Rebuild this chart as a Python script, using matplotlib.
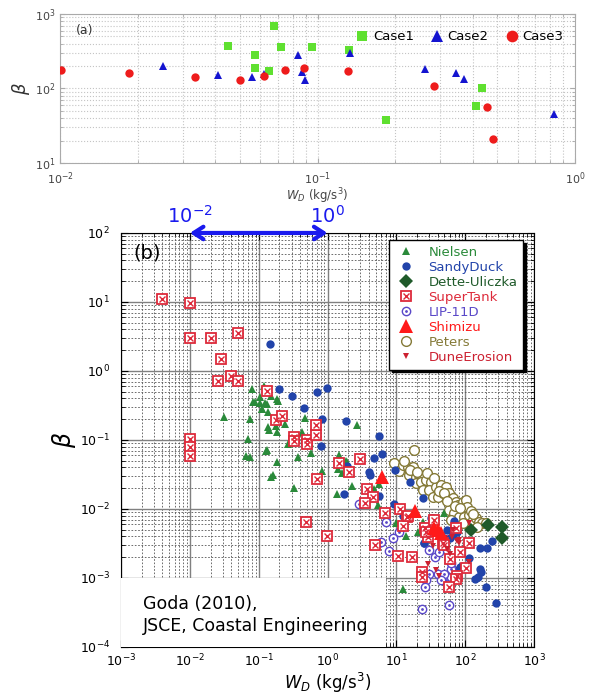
import numpy as np
import matplotlib
matplotlib.use('Agg')
import matplotlib.pyplot as plt
from matplotlib.patches import Rectangle
from matplotlib.ticker import LogLocator, NullFormatter, FixedLocator, LogFormatterSciNotation
from matplotlib.legend_handler import HandlerTuple

# ---------------- panel (a) data ----------------
case1_x = [0.045, 0.068, 0.057, 0.057, 0.065, 0.0723, 0.0953, 0.132, 0.185, 0.435, 0.413]
case1_y = [375, 693, 282, 191, 174, 358, 366, 333, 37.9, 103, 58]
case2_x = [0.0251, 0.0409, 0.0557, 0.0622, 0.0843, 0.0873, 0.0891, 0.1337, 0.262, 0.345, 0.372, 0.83]
case2_y = [203, 153, 144, 155, 279, 164, 130, 296, 183, 162, 136, 45]
case3_x = [0.0101, 0.0185, 0.0334, 0.0501, 0.0622, 0.075, 0.0883, 0.131, 0.283, 0.454, 0.48]
case3_y = [178, 162, 143, 131, 146, 178, 191, 174, 107, 56, 21]

# ---------------- panel (b) data ----------------
nielsen_x = [0.118, 0.080, 0.103, 0.149, 0.0826, 0.125, 0.187, 0.112, 0.136, 0.0314, 0.0758, 0.136,
             0.14, 0.181, 0.244, 0.475, 0.42, 0.187, 2.66, 0.0693, 0.266, 0.548, 0.13, 0.066, 0.074,
             0.367, 0.568, 0.187, 1.49, 1.87, 0.088, 0.103, 0.13, 0.11, 0.19, 0.129, 0.153, 0.16,
             0.325, 1.44, 1.61, 1.93, 0.83, 1.38, 2.28, 4.8, 5.67, 5.49, 9.9, 13.8, 20.4, 24.1, 48.5, 12.6]
nielsen_y = [0.612, 0.543, 0.425, 0.435, 0.352, 0.347, 0.389, 0.279, 0.257, 0.213, 0.201, 0.156,
             0.14, 0.160, 0.171, 0.208, 0.132, 0.129, 0.167, 0.102, 0.0865, 0.0914, 0.0716, 0.0586, 0.056,
             0.0573, 0.0655, 0.0485, 0.060, 0.050, 0.36, 0.34, 0.33, 0.28, 0.37, 0.069, 0.0288, 0.031,
             0.020, 0.038, 0.0329, 0.0485, 0.0356, 0.0163, 0.0216, 0.0193, 0.023, 0.0114, 0.0062, 0.0041,
             0.0047, 0.00655, 0.0087, 0.00069]

sandy_x = [0.144, 0.197, 0.304, 0.709, 0.977, 0.449, 0.838, 1.87, 0.81, 5.55, 6.2, 4.8, 1.9, 3.97, 4.16,
           1.76, 5.55, 9.6, 15.8, 9.35, 12.6, 31.8, 24.9, 44.4, 60.4, 67.5, 75, 112, 163, 211, 249, 163,
           171, 137, 153, 200, 279, 81.8, 24.6, 33.6, 69, 25.5, 55.3, 84.7]
sandy_y = [2.44, 0.543, 0.44, 0.501, 0.573, 0.294, 0.201, 0.19, 0.0819, 0.114, 0.062, 0.0555, 0.042,
           0.0347, 0.0311, 0.0165, 0.0154, 0.0367, 0.0249, 0.0118, 0.008, 0.00748, 0.00325, 0.0042,
           0.00375, 0.0042, 0.0047, 0.00193, 0.00269, 0.00269, 0.00348, 0.00133, 0.00122, 0.00097,
           0.00105, 0.00073, 0.00044, 0.00134, 0.0143, 0.0073, 0.0068, 0.00318, 0.00497, 0.00146]

dette_x = [120, 218, 347, 347]
dette_y = [0.00497, 0.00586, 0.00554, 0.00376]

supertank_x = [0.0040, 0.010, 0.010, 0.020, 0.050, 0.028, 0.0257, 0.040, 0.050, 0.131, 0.010, 0.010,
               0.010, 0.176, 0.22, 0.329, 0.33, 0.50, 0.50, 0.686, 0.69, 0.70, 0.48, 1.49, 2.08, 2.98,
               3.71, 4.54, 3.55, 6.93, 11.4, 14.1, 12.6, 0.99, 4.97, 14.6, 10.4, 16.7, 26.1, 28.4, 35.6,
               48, 60.7, 73.3, 112, 102, 23.5, 23.5, 75, 73, 58.6, 26.9, 84.7, 49.7]
supertank_y = [10.9, 9.6, 3.0, 3.0, 3.5, 1.49, 0.716, 0.837, 0.716, 0.513, 0.102, 0.078, 0.059, 0.195,
               0.223, 0.112, 0.098, 0.100, 0.0865, 0.117, 0.165, 0.0272, 0.00655, 0.0469, 0.034, 0.0525,
               0.0195, 0.0151, 0.0121, 0.00867, 0.010, 0.0076, 0.00568, 0.00406, 0.00304, 0.0078,
               0.00209, 0.00204, 0.00525, 0.00397, 0.00693, 0.00318, 0.00187, 0.00525, 0.00318, 0.00138,
               0.00124, 0.00105, 0.00107, 0.00096, 0.00073, 0.00468, 0.0024, 0.0030]

lip_x = [2.91, 7.08, 10.8, 8.85, 6.0, 7.93, 30.1, 36.7, 41, 30.1, 26.9, 26.3, 39.8, 52.5, 61.9, 61.9,
         61.9, 49.7, 23.5, 58.6, 44.4]
lip_y = [0.0117, 0.00655, 0.00469, 0.00376, 0.00329, 0.00246, 0.00255, 0.00204, 0.00236, 0.00114,
         0.00093, 0.00075, 0.00114, 0.00093, 0.00105, 0.00134, 0.00166, 0.00114, 0.00036, 0.0004, 0.00093]

shimizu_x = [6.12, 18.6, 35.6, 44.4, 40]
shimizu_y = [0.0294, 0.0095, 0.00536, 0.00454, 0.0050]

peters_x = [18.2, 9.36, 11.0, 12.3, 14.6, 17.2, 15.4, 19.3, 21.5, 24.1, 19.3, 22.8, 26.9, 31.8, 24.1,
            30.1, 37.6, 44.4, 52.5, 33.6, 39.7, 46.9, 58.6, 65.5, 73.3, 77.4, 91.5, 102, 108, 58.6, 69.2,
            81.8, 96.8, 114, 128, 143, 160, 178, 200, 61.9, 91.5, 151, 13, 16, 20, 28, 35, 42, 50, 55,
            70, 85, 120, 130]
peters_y = [0.0716, 0.0459, 0.0359, 0.0434, 0.041, 0.041, 0.0311, 0.0294, 0.0311, 0.0294, 0.0236, 0.0249,
            0.0263, 0.0249, 0.0188, 0.0188, 0.0211, 0.0223, 0.0211, 0.0151, 0.0151, 0.0169, 0.0169, 0.0143,
            0.0128, 0.0114, 0.0128, 0.0135, 0.0108, 0.0097, 0.00867, 0.00775, 0.00775, 0.00818, 0.00693,
            0.00733, 0.00655, 0.0062, 0.0062, 0.00693, 0.0062, 0.00554, 0.050, 0.037, 0.034, 0.033, 0.028,
            0.018, 0.017, 0.013, 0.011, 0.0105, 0.0095, 0.0085]

dune_x = [114, 55.3, 28.4, 41, 81.8, 112, 33.6, 64, 50.8, 75, 80.3, 65.5, 38, 60]
dune_y = [0.0063, 0.00263, 0.0016, 0.00107, 0.00356, 0.00173, 0.00291, 0.00397, 0.0038, 0.00348,
          0.00325, 0.00497, 0.0013, 0.0022]

a_xticks = [1e-2, 1e-1, 1e0]
a_yticks = [1e1, 1e2, 1e3]
b_xticks = [1e-3, 1e-2, 1e-1, 1e0, 1e1, 1e2, 1e3]
b_yticks = [1e-4, 1e-3, 1e-2, 1e-1, 1e0, 1e1, 1e2]

# ---------------- figure ----------------
fig = plt.figure(figsize=(5.9, 6.99), dpi=100)

# ----- panel (a) -----
axa = fig.add_axes([0.1017, 0.7668, 0.8729, 0.2132])
axa.set_xscale('log')
axa.set_yscale('log')
axa.set_xlim(1e-2, 1)
axa.set_ylim(10, 1000)
axa.xaxis.set_major_locator(FixedLocator(a_xticks))
axa.yaxis.set_major_locator(FixedLocator(a_yticks))
axa.xaxis.set_major_formatter(LogFormatterSciNotation())
axa.yaxis.set_major_formatter(LogFormatterSciNotation())
axa.grid(True, which='both', color='#c4c4c4', linestyle=':', linewidth=0.8)
axa.set_axisbelow(True)
for s in axa.spines.values():
    s.set_color('#aaaaaa')
axa.tick_params(which='both', direction='in', color='#aaaaaa', labelcolor='#444444',
                labelsize=8, top=True, right=True)
axa.tick_params(axis='x', pad=5)
axa.plot(case1_x, case1_y, 's', color='#5fe030', ms=5.5, mew=0, label='Case1', zorder=3)
axa.plot(case2_x, case2_y, '^', color='#1414d0', ms=6, mew=0, label='Case2', zorder=3)
axa.plot(case3_x, case3_y, 'o', color='#ee1c1c', ms=6, mew=0, label='Case3', zorder=3)
axa.legend(loc='upper right', ncol=3, frameon=False, fontsize=9.5, handletextpad=0.2,
           columnspacing=1.15, markerscale=1.4, bbox_to_anchor=(1.0, 0.97), handlelength=1.2)
axa.text(0.03, 0.93, '(a)', transform=axa.transAxes, fontsize=9, va='top', color='#333333')
axa.set_xlabel(r'$W_D$ (kg/s$^3$)', fontsize=8.5, color='#444444', labelpad=0)
axa.set_ylabel(r'$\beta$', fontsize=13, color='#333333', labelpad=2)

# ----- panel (b) -----
axb = fig.add_axes([0.2051, 0.0744, 0.7, 0.5923])
axb.set_xscale('log')
axb.set_yscale('log')
axb.set_xlim(1e-3, 1e3)
axb.set_ylim(1e-4, 1e2)
axb.xaxis.set_major_locator(FixedLocator(b_xticks))
axb.yaxis.set_major_locator(FixedLocator(b_yticks))
for axis in (axb.xaxis, axb.yaxis):
    axis.set_major_formatter(LogFormatterSciNotation())
    axis.set_minor_locator(LogLocator(base=10, subs=np.arange(2, 10), numticks=20))
    axis.set_minor_formatter(NullFormatter())
axb.grid(True, which='major', color='#808080', linestyle='-', linewidth=1.0)
axb.grid(True, which='minor', color='#555555', linestyle=(0, (2, 2)), linewidth=0.6)
axb.set_axisbelow(True)
axb.tick_params(which='both', direction='in', top=True, right=True, labelsize=9)
axb.tick_params(which='major', length=5)
axb.tick_params(which='minor', length=3)
axb.tick_params(axis='y', pad=8)
axb.tick_params(axis='x', pad=4)

c_niel = '#2a8a3a'
c_sandy = '#2244aa'
c_dette = '#1f5a2a'
c_super = '#dd2a3a'
c_lip = '#5a48c8'
c_shim = '#ff1a1a'
c_pet = '#857a38'
c_dune = '#cc2030'

h_pet, = axb.plot(peters_x, peters_y, 'o', mfc='white', mec=c_pet, ms=7, mew=1.0, zorder=3, ls='none')
h_niel, = axb.plot(nielsen_x, nielsen_y, '^', color=c_niel, ms=6, mew=0, zorder=4, ls='none')
h_sandy, = axb.plot(sandy_x, sandy_y, 'o', color=c_sandy, ms=6, mew=0, zorder=4, ls='none')
h_dette, = axb.plot(dette_x, dette_y, 'D', color=c_dette, ms=7, mew=0, zorder=4, ls='none')
h_lip1, = axb.plot(lip_x, lip_y, 'o', mfc='white', mec=c_lip, ms=6, mew=1.0, zorder=5, ls='none')
h_lip2, = axb.plot(lip_x, lip_y, '.', color=c_lip, ms=2, zorder=5, ls='none')
h_sup1, = axb.plot(supertank_x, supertank_y, 's', mfc='white', mec=c_super, ms=7, mew=1.3, zorder=5, ls='none')
h_sup2, = axb.plot(supertank_x, supertank_y, 'x', color=c_super, ms=4.5, mew=1.0, zorder=5, ls='none')
h_dune, = axb.plot(dune_x, dune_y, 'v', color=c_dune, ms=5, mew=0, zorder=6, ls='none')
h_shim, = axb.plot(shimizu_x, shimizu_y, '^', color=c_shim, ms=10, mew=0, zorder=6, ls='none')

handles = [h_niel, h_sandy, h_dette, (h_sup1, h_sup2), (h_lip1, h_lip2), h_shim, h_pet, h_dune]
labels = ['Nielsen', 'SandyDuck', 'Dette-Uliczka', 'SuperTank', 'LIP-11D', 'Shimizu', 'Peters', 'DuneErosion']
lcolors = [c_niel, c_sandy, c_dette, c_super, c_lip, c_shim, c_pet, c_dune]
leg = axb.legend(handles, labels, loc='upper right', bbox_to_anchor=(0.99, 0.999),
                 handler_map={tuple: HandlerTuple(ndivide=1)},
                 fontsize=9.5, labelspacing=0.15, handletextpad=0.9, handlelength=1.6,
                 borderpad=0.45, fancybox=False, edgecolor='black', framealpha=1,
                 shadow={'color': 'black', 'alpha': 1.0})
leg.get_frame().set_linewidth(1.0)
for t, c in zip(leg.get_texts(), lcolors):
    t.set_color(c)
leg.set_zorder(10)

axb.text(0.03, 0.975, '(b)', transform=axb.transAxes, fontsize=14, va='top', ha='left', zorder=7)

# annotation box
axb.add_patch(Rectangle((0, 0), 0.642, 0.167, transform=axb.transAxes, facecolor='white',
                        edgecolor='none', zorder=6))
axb.text(0.053, 0.125, 'Goda (2010),\nJSCE, Coastal Engineering', transform=axb.transAxes,
         fontsize=12.5, va='top', ha='left', linespacing=1.25, zorder=7)

# range arrow
axb.annotate('', xy=(1.0, 100), xytext=(1e-2, 100), xycoords='data',
             arrowprops=dict(arrowstyle='<->,head_length=0.7,head_width=0.45', color='#1a1aee',
                             lw=3.0, shrinkA=0, shrinkB=0), annotation_clip=False, zorder=8)
axb.text(1e-2, 122, r'$10^{-2}$', color='#1a1aee', fontsize=14, ha='center', va='bottom')
axb.text(1.0, 122, r'$10^{0}$', color='#1a1aee', fontsize=14, ha='center', va='bottom')

axb.set_xlabel(r'$W_D$ (kg/s$^3$)', fontsize=12)
axb.xaxis.set_label_coords(0.5, -0.058)
axb.set_ylabel(r'$\beta$', fontsize=17)
axb.yaxis.set_label_coords(-0.105, 0.5)

fig.savefig('out.png', dpi=100)
